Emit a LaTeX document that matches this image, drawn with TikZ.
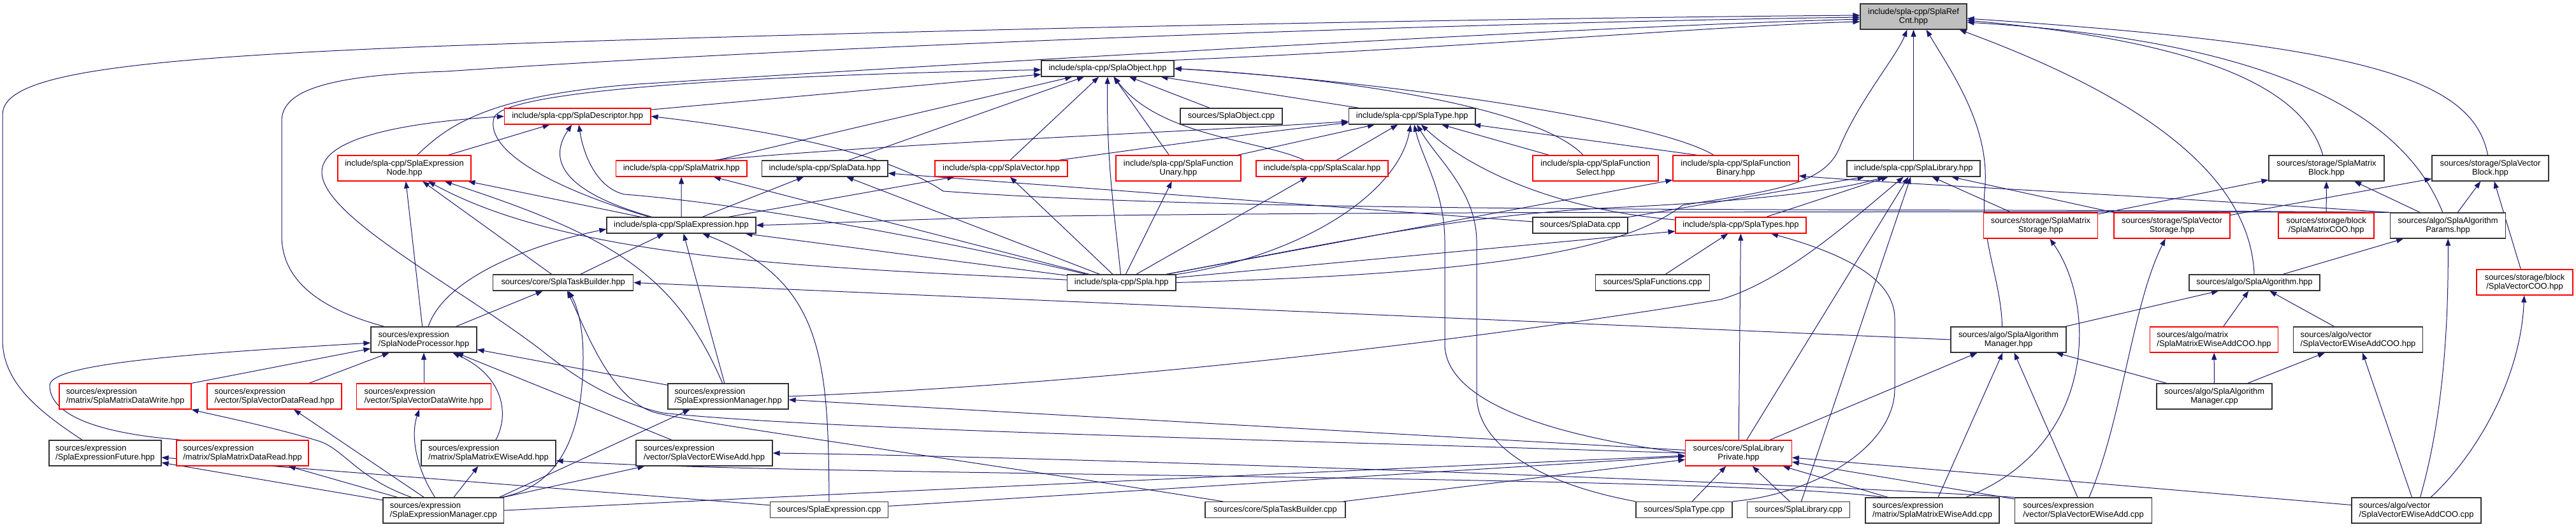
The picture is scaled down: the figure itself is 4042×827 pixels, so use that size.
\documentclass[tikz,border=0pt]{standalone}
\usepackage{fontspec}
\setmainfont{Liberation Sans}
\usetikzlibrary{arrows.meta}
\definecolor{edgec}{HTML}{191970}
\definecolor{refgrey}{HTML}{BFBFBF}
\pgfdeclarelayer{back}
\pgfdeclarelayer{bg}
\pgfsetlayers{back,bg,main}
\begin{document}
\begin{tikzpicture}[x=1pt,y=-1pt,
  nb/.style={draw=black!80, line width=1.2pt, fill=white, inner sep=0pt, align=center,
             font=\fontsize{12.9}{14}\selectfont},
  nr/.style={nb, draw=red},
  nl/.style={align=left},
  wh/.style 2 args={minimum width=#1, minimum height=#2},
  e/.style={draw=edgec, line width=1pt, -{Triangle[length=11pt,width=8pt]}}]
\begin{pgfonlayer}{back}
\fill[white] (0,0) rectangle (4042,827);
\end{pgfonlayer}
\useasboundingbox (0,0) rectangle (4042,827);
% rank 0
\node[nb,fill=refgrey,wh={167}{40}] (refcnt) at (3002.5,26) {include/spla-cpp/SplaRef\\Cnt.hpp};
% rank 1
\node[nb,wh={208}{25}] (object) at (1738,107.5) {include/spla-cpp/SplaObject.hpp};
% rank 2
\node[nr,wh={229.5}{25}] (descriptor) at (906.2,182.5) {include/spla-cpp/SplaDescriptor.hpp};
\node[nb,wh={160}{25}] (objectcpp) at (1932,182.5) {sources/SplaObject.cpp};
\node[nb,wh={198.5}{25}] (type) at (2215.8,182.5) {include/spla-cpp/SplaType.hpp};
% rank 3
\node[nr,wh={209}{40}] (exprnode) at (634.5,264) {include/spla-cpp/SplaExpression\\Node.hpp};
\node[nr,wh={205.5}{25}] (matrix) at (1069.2,264.5) {include/spla-cpp/SplaMatrix.hpp};
\node[nb,wh={197.5}{25}] (data) at (1294.2,264.5) {include/spla-cpp/SplaData.hpp};
\node[nr,wh={208}{25}] (vector) at (1571,264.5) {include/spla-cpp/SplaVector.hpp};
\node[nr,wh={196}{40}] (funary) at (1849,264) {include/spla-cpp/SplaFunction\\Unary.hpp};
\node[nr,wh={207}{25}] (scalar) at (2074.5,264.5) {include/spla-cpp/SplaScalar.hpp};
\node[nr,wh={197}{40}] (fselect) at (2503.5,264) {include/spla-cpp/SplaFunction\\Select.hpp};
\node[nr,wh={197}{40}] (fbinary) at (2723.5,264) {include/spla-cpp/SplaFunction\\Binary.hpp};
\node[nb,wh={209}{25}] (library) at (3002.5,264.5) {include/spla-cpp/SplaLibrary.hpp};
\node[nb,wh={181}{40}] (mblock) at (3650.5,264) {sources/storage/SplaMatrix\\Block.hpp};
\node[nb,wh={183}{40}] (vblock) at (3907.5,264) {sources/storage/SplaVector\\Block.hpp};
% rank 4
\node[nb,wh={234}{25}] (expr) at (1069,353.5) {include/spla-cpp/SplaExpression.hpp};
\node[nb,wh={149}{25}] (datacpp) at (2479.5,353.5) {sources/SplaData.cpp};
\node[nr,wh={205}{25}] (types) at (2731.5,353.5) {include/spla-cpp/SplaTypes.hpp};
\node[nr,wh={179.5}{40}] (mstorage) at (3202,354) {sources/storage/SplaMatrix\\Storage.hpp};
\node[nr,wh={182}{40}] (vstorage) at (3408,354) {sources/storage/SplaVector\\Storage.hpp};
\node[nr,wh={150}{40}] (mcoo) at (3650,354) {sources/storage/block\\/SplaMatrixCOO.hpp};
\node[nb,wh={181.5}{40}] (params) at (3841,354) {sources/algo/SplaAlgorithm\\Params.hpp};
% rank 5
\node[nb,wh={220}{25}] (taskbuilder) at (883.7,443.5) {sources/core/SplaTaskBuilder.hpp};
\node[nb,wh={170.4}{25}] (spla) at (1759.8,443.5) {include/spla-cpp/Spla.hpp};
\node[nb,wh={179}{25}] (functions) at (2593,443.5) {sources/SplaFunctions.cpp};
\node[nb,wh={205}{25}] (algorithm) at (3537.5,443.5) {sources/algo/SplaAlgorithm.hpp};
\node[nr,wh={151}{40}] (vcoo) at (3961.5,443) {sources/storage/block\\/SplaVectorCOO.hpp};
% rank 6
\node[nb,nl,wh={166}{40}] (nodeproc) at (665,533) {sources/expression\\/SplaNodeProcessor.hpp};
\node[nb,wh={181}{40}] (algmgr) at (3151.5,533) {sources/algo/SplaAlgorithm\\Manager.hpp};
\node[nr,nl,wh={200.5}{40}] (mewcoo) at (3474,533) {sources/algo/matrix\\/SplaMatrixEWiseAddCOO.hpp};
\node[nb,nl,wh={202.5}{40}] (vewcoo) at (3700,533) {sources/algo/vector\\/SplaVectorEWiseAddCOO.hpp};
% rank 7
\node[nr,nl,wh={207}{40}] (mdwrite) at (196.5,622) {sources/expression\\/matrix/SplaMatrixDataWrite.hpp};
\node[nr,nl,wh={211}{40}] (vdread) at (430.5,622) {sources/expression\\/vector/SplaVectorDataRead.hpp};
\node[nr,nl,wh={211.5}{40}] (vdwrite) at (665,622) {sources/expression\\/vector/SplaVectorDataWrite.hpp};
\node[nb,nl,wh={189}{40}] (exprmgr) at (1142.5,622) {sources/expression\\/SplaExpressionManager.hpp};
\node[nb,wh={181}{40}] (algmgrcpp) at (3474.5,622) {sources/algo/SplaAlgorithm\\Manager.cpp};
% rank 8
\node[nb,nl,wh={176}{40}] (future) at (165,711) {sources/expression\\/SplaExpressionFuture.hpp};
\node[nr,nl,wh={207}{40}] (mdread) at (380.5,711) {sources/expression\\/matrix/SplaMatrixDataRead.hpp};
\node[nb,nl,wh={211}{40}] (mewadd) at (766.5,711) {sources/expression\\/matrix/SplaMatrixEWiseAdd.hpp};
\node[nb,nl,wh={214}{40}] (vewadd) at (1105,711) {sources/expression\\/vector/SplaVectorEWiseAdd.hpp};
\node[nr,wh={166.5}{40}] (libpriv) at (2728,711) {sources/core/SplaLibrary\\Private.hpp};
% rank 9
\node[nb,nl,wh={189.6}{40}] (exprmgrcpp) at (695.8,801) {sources/expression\\/SplaExpressionManager.cpp};
\node[nb,wh={185.5}{25}] (exprcpp) at (1301,800) {sources/SplaExpression.cpp};
\node[nb,wh={220}{25}] (tbcpp) at (2001,800) {sources/core/SplaTaskBuilder.cpp};
\node[nb,wh={151}{25}] (typecpp) at (2642.5,800) {sources/SplaType.cpp};
\node[nb,wh={161.5}{25}] (librarycpp) at (2822,800) {sources/SplaLibrary.cpp};
\node[nb,nl,wh={210}{40}] (mewaddcpp) at (3032,801) {sources/expression\\/matrix/SplaMatrixEWiseAdd.cpp};
\node[nb,nl,wh={215.5}{40}] (vewaddcpp) at (3269,801) {sources/expression\\/vector/SplaVectorEWiseAdd.cpp};
\node[nb,nl,wh={203}{40}] (vewcoocpp) at (3791.5,801) {sources/algo/vector\\/SplaVectorEWiseAddCOO.cpp};

\begin{pgfonlayer}{bg}
% ---- into SplaRefCnt
\draw[e] (object.north east) .. controls (2300,75) and (2700,40) .. ([yshift=-8pt]refcnt.west);
\draw[e] ([xshift=-36pt]future.north) .. controls (60,645) and (4,600) .. (4,533) -- (4,180) .. controls (4,118) and (180,92) .. (700,72) .. controls (1500,44) and (2400,28) .. ([yshift=2pt]refcnt.west);
\draw[e] ([xshift=-62pt]nodeproc.north) .. controls (520,490) and (442,450) .. (442,370) -- (442,190) .. controls (442,140) and (520,118) .. (700,112) .. controls (1400,65) and (2400,34) .. ([yshift=-1pt]refcnt.west);
\draw[e] ([xshift=20pt]exprnode.north) .. controls (700,200) and (760,150) .. (1000,132) .. controls (1700,88) and (2500,42) .. ([yshift=-4pt]refcnt.west);
\draw[e] (library) -- (refcnt);
\draw[e] (spla.east) .. controls (2300,430) and (2540,400) .. (2640,322) .. controls (2780,300) and (2860,290) .. (2885,235) .. controls (2915,160) and (2975,90) .. ([xshift=-10pt]refcnt.south);
\draw[e] ([xshift=-10pt]algmgr.north) .. controls (3140,440) and (3108,380) .. (3114,300) .. controls (3125,200) and (3060,110) .. ([xshift=20pt]refcnt.south);
\draw[e] (algorithm) .. controls (3530,250) and (3300,130) .. ([xshift=72pt]refcnt.south);
\draw[e] (mblock) .. controls (3610,120) and (3400,60) .. ([yshift=-6pt]refcnt.east);
\draw[e] (params) .. controls (3760,150) and (3500,60) .. ([yshift=-9pt]refcnt.east);
\draw[e] (vblock) .. controls (3880,120) and (3700,70) .. ([yshift=-3pt]refcnt.east);
% ---- into SplaObject
\draw[e] (descriptor) -- (object);
\draw[e] (objectcpp) -- (object);
\draw[e] (type) -- (object);
\draw[e] (matrix) -- (object);
\draw[e] (data) -- (object);
\draw[e] (vector) -- (object);
\draw[e] (funary) -- (object);
\draw[e] (scalar) .. controls (1980,220) and (1820,215) .. (object);
\draw[e] (fselect) .. controls (2420,175) and (2150,125) .. (object.east);
\draw[e] (fbinary) .. controls (2600,190) and (2200,130) .. (object.east);
\draw[e] (spla) .. controls (1748,330) and (1736,250) .. (object);
\draw[e] ([xshift=-50pt]expr.north) .. controls (880,300) and (760,240) .. (775,185) .. controls (790,140) and (1200,118) .. ([yshift=-2pt]object.west);
% ---- into SplaType
\draw[e] ([xshift=50pt]matrix.north) .. controls (1400,225) and (1900,205) .. ([yshift=-8pt]type.west);
\draw[e] ([xshift=90pt]vector.north) .. controls (1850,225) and (2000,205) .. ([yshift=-10pt]type.west);
\draw[e] (funary) -- (type);
\draw[e] (scalar) -- (type);
\draw[e] (fselect) -- (type);
\draw[e] ([xshift=-60pt]fbinary.north) -- (type);
\draw[e] (spla) .. controls (2050,400) and (2195,300) .. (type);
\draw[e] (libpriv.west) .. controls (2400,680) and (2267,620) .. (2267,540) -- (2267,380) .. controls (2267,300) and (2232,250) .. (type);
\draw[e] (typecpp.north west) .. controls (2420,760) and (2317,700) .. (2317,620) -- (2317,380) .. controls (2317,300) and (2255,250) .. (type);
\draw[e] (types) .. controls (2450,330) and (2310,270) .. (type);
% ---- into SplaDescriptor
\draw[e] (exprnode) -- (descriptor);
\draw[e] (expr) .. controls (880,300) and (860,250) .. (descriptor);
\draw[e] (spla) .. controls (1450,370) and (1150,318) .. (980,305) .. controls (935,295) and (915,240) .. (descriptor);
\draw[e] (libpriv.west) .. controls (2000,690) and (1300,675) .. (1040,648) .. controls (960,630) and (900,590) .. (850,550) .. controls (720,450) and (505,340) .. (505,270) .. controls (505,215) and (640,192) .. (descriptor.west);
\draw[e] (params.north west) .. controls (3000,325) and (2000,338) .. (1480,300) .. controls (1420,260) and (1300,215) .. (descriptor.east);
% ---- into SplaExpressionNode
\draw[e] (nodeproc) -- (exprnode);
\draw[e] (taskbuilder) -- (exprnode);
\draw[e] (exprmgr) .. controls (1060,430) and (960,370) .. (exprnode);
\draw[e] (expr) -- (exprnode);
\draw[e] (spla) .. controls (1300,420) and (900,410) .. (exprnode);
% ---- rank 3 others
\draw[e] (expr) -- (matrix);
\draw[e] (spla) -- (matrix);
\draw[e] (expr) -- (data);
\draw[e] (spla) -- (data);
\draw[e] (datacpp) -- (data);
\draw[e] (expr) -- (vector);
\draw[e] (spla) -- (vector);
\draw[e] (spla) -- (funary);
\draw[e] (spla) -- (scalar);
\draw[e] (spla) -- (fbinary);
\draw[e] (params.north west) .. controls (3300,303) and (3000,290) .. ([yshift=-12pt]fbinary.east);
\draw[e] (params.north west) .. controls (3000,331) and (2000,333) .. (1600,340) .. controls (1400,345) and (1260,352) .. (expr.east);
% ---- into SplaLibrary
\draw[e] (spla) .. controls (2100,380) and (2300,335) .. (2550,325) .. controls (2750,315) and (2880,300) .. (library);
\draw[e] (exprmgr.east) .. controls (1800,600) and (2400,520) .. (2700,470) .. controls (2800,440) and (2900,350) .. (library);
\draw[e] (types) -- (library);
\draw[e] (libpriv) -- (library);
\draw[e] (librarycpp) -- (library);
\draw[e] (mstorage) -- (library);
\draw[e] (vstorage.north west) -- (library);
\draw[e] (datacpp) -- (library);
% ---- into SplaTypes
\draw[e] (spla) -- (types);
\draw[e] (functions) -- (types);
\draw[e] (libpriv) -- (types);
\draw[e] (typecpp.north east) .. controls (2850,775) and (2973,700) .. (2973,610) -- (2973,500) .. controls (2973,440) and (2900,400) .. (types);
% ---- storage / blocks / algo
\draw[e] (mewaddcpp) .. controls (3290,700) and (3290,480) .. (mstorage);
\draw[e] (mstorage) -- (mblock);
\draw[e] (vstorage) -- (vblock);
\draw[e] (vewaddcpp) .. controls (3330,660) and (3345,480) .. (vstorage);
\draw[e] (mcoo) -- (mblock);
\draw[e] (params) -- (mblock);
\draw[e] (params) -- (vblock);
\draw[e] (vcoo) -- (vblock);
\draw[e] (algorithm) -- (params);
\draw[e] (vewcoocpp) .. controls (3835,650) and (3842,500) .. (params);
\draw[e] (vewcoocpp) .. controls (3880,720) and (3955,600) .. (vcoo);
\draw[e] (algmgr) -- (algorithm);
\draw[e] (mewcoo) -- (algorithm);
\draw[e] (vewcoo) -- (algorithm);
\draw[e] (algmgrcpp) -- (mewcoo);
\draw[e] (algmgrcpp) -- (vewcoo);
\draw[e] (vewcoocpp) -- (vewcoo);
\draw[e] (algmgrcpp) -- (algmgr);
\draw[e] (libpriv) -- (algmgr);
\draw[e] (mewaddcpp) -- (algmgr);
\draw[e] (vewaddcpp) -- (algmgr);
\draw[e] (algmgr.west) -- (taskbuilder.east);
% ---- into SplaTaskBuilder.hpp
\draw[e] (nodeproc) -- (taskbuilder);
\draw[e] ([xshift=-5pt]exprmgrcpp.north east) .. controls (900,760) and (915,640) .. (915,560) .. controls (915,500) and (900,470) .. (taskbuilder);
\draw[e] (tbcpp) .. controls (1500,720) and (1100,665) .. (1030,648) .. controls (960,630) and (920,520) .. (taskbuilder);
% ---- into SplaExpression.hpp
\draw[e] (nodeproc) .. controls (700,430) and (850,380) .. ([yshift=-6pt]expr.west);
\draw[e] (taskbuilder) -- (expr);
\draw[e] (exprmgr) -- (expr);
\draw[e] (exprcpp) .. controls (1300,560) and (1290,440) .. (expr);
\draw[e] (spla) -- (expr);
% ---- into SplaNodeProcessor
\draw[e] ([xshift=-95pt]mdread.north) .. controls (150,680) and (78,650) .. (78,605) .. controls (78,570) and (300,555) .. (nodeproc);
\draw[e] (mdwrite.north east) -- ([yshift=-14pt]nodeproc.west);
\draw[e] (vdread) -- (nodeproc);
\draw[e] (vdwrite) -- (nodeproc);
\draw[e] (mewadd) .. controls (800,650) and (790,590) .. (nodeproc);
\draw[e] (vewadd) -- (nodeproc);
\draw[e] (exprmgr) -- (nodeproc);
% ---- into SplaExpressionManager.hpp
\draw[e] ([xshift=-8pt]exprmgrcpp.north east) -- ([xshift=-60pt]exprmgr.south);
\draw[e] (libpriv) -- (exprmgr);
% ---- from SplaExpressionManager.cpp
\draw[e] ([xshift=-50pt]exprmgrcpp.north) .. controls (560,750) and (540,705) .. (500,692) .. controls (420,668) and (330,650) .. (mdwrite.south east);
\draw[e] (exprmgrcpp) -- (vdread);
\draw[e] (exprmgrcpp) .. controls (650,730) and (645,680) .. (vdwrite);
\draw[e] (exprmgrcpp) -- (future);
\draw[e] (exprmgrcpp) -- (mdread);
\draw[e] (exprmgrcpp) -- (mewadd);
\draw[e] (exprmgrcpp) -- (vewadd);
\draw[e] (exprcpp) -- (future);
% ---- into SplaLibraryPrivate
\draw[e] (exprmgrcpp.east) .. controls (1300,775) and (2200,735) .. ([yshift=-4pt]libpriv.west);
\draw[e] (exprcpp) -- (libpriv);
\draw[e] (tbcpp) -- (libpriv);
\draw[e] (vewcoocpp) -- (libpriv);
\draw[e] (vewaddcpp) -- (libpriv);
\draw[e] (typecpp) -- (libpriv);
\draw[e] (librarycpp) -- (libpriv);
\draw[e] (mewaddcpp) -- (libpriv);
% ---- EWiseAdd.cpp -> EWiseAdd.hpp
\draw[e] ([xshift=30pt]mewaddcpp.north west) .. controls (2700,745) and (1250,748) .. ([yshift=-12pt]mewadd.east);
\draw[e] (vewaddcpp.north west) .. controls (2700,752) and (1600,716) .. (vewadd.east);
\end{pgfonlayer}
\end{tikzpicture}
\end{document}
